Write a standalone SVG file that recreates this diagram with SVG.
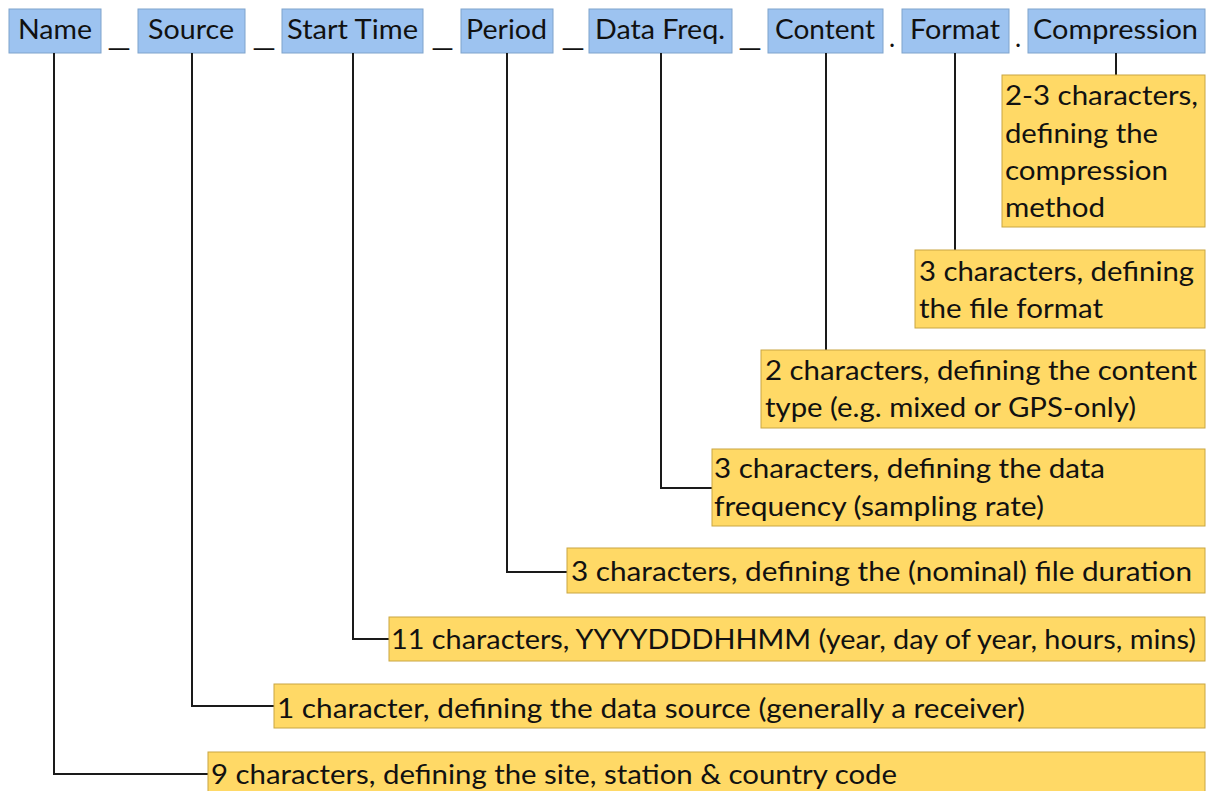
<svg xmlns="http://www.w3.org/2000/svg" width="1207" height="791" viewBox="0 0 1207 791">
<style>
.bg{fill:#ffffff}
.hdr{fill:#9DC3F0;stroke:#7FA3CC;stroke-width:1}
.desc{fill:#FFD966;stroke:#C9A642;stroke-width:1}
text{font-family:Lato,"Open Sans","Liberation Sans",sans-serif;font-size:26px;fill:#111111}
.sep{font-size:28px}
.conn path{fill:none;stroke:#1a1a1a;stroke-width:2}
</style>
<rect class="bg" x="0" y="0" width="1207" height="791"/>
<g id="separators">
<text class="sep" x="107" y="46" textLength="24" lengthAdjust="spacingAndGlyphs">_</text>
<text class="sep" x="252" y="46" textLength="24" lengthAdjust="spacingAndGlyphs">_</text>
<text class="sep" x="431" y="46" textLength="23" lengthAdjust="spacingAndGlyphs">_</text>
<text class="sep" x="561" y="46" textLength="24" lengthAdjust="spacingAndGlyphs">_</text>
<text class="sep" x="738" y="46" textLength="24" lengthAdjust="spacingAndGlyphs">_</text>
<text x="889" y="47">.</text>
<text x="1015" y="47">.</text>
</g>
<g id="h-name"><rect class="hdr" x="9" y="9" width="92" height="44"/><text x="18" y="39" textLength="74" lengthAdjust="spacingAndGlyphs">Name</text></g>
<g id="h-source"><rect class="hdr" x="138" y="9" width="107" height="44"/><text x="148" y="39" textLength="86" lengthAdjust="spacingAndGlyphs">Source</text></g>
<g id="h-start"><rect class="hdr" x="282" y="9" width="141" height="44"/><text x="287" y="39" textLength="131" lengthAdjust="spacingAndGlyphs">Start Time</text></g>
<g id="h-period"><rect class="hdr" x="461" y="9" width="92" height="44"/><text x="466" y="39" textLength="81" lengthAdjust="spacingAndGlyphs">Period</text></g>
<g id="h-freq"><rect class="hdr" x="589" y="9" width="143" height="44"/><text x="595" y="39" textLength="130" lengthAdjust="spacingAndGlyphs">Data Freq.</text></g>
<g id="h-content"><rect class="hdr" x="768" y="9" width="115" height="44"/><text x="775" y="39" textLength="100" lengthAdjust="spacingAndGlyphs">Content</text></g>
<g id="h-format"><rect class="hdr" x="902" y="9" width="107" height="44"/><text x="910" y="39" textLength="90" lengthAdjust="spacingAndGlyphs">Format</text></g>
<g id="h-compression"><rect class="hdr" x="1028" y="9" width="177" height="44"/><text x="1033" y="39" textLength="165" lengthAdjust="spacingAndGlyphs">Compression</text></g>
<g class="conn" id="connectors">
<path d="M54 53V774H208"/>
<path d="M192 53V706H274"/>
<path d="M353 53V639H389"/>
<path d="M507 53V572H567"/>
<path d="M661 53V488H712"/>
<path d="M826 53V350"/>
<path d="M955 53V250"/>
<path d="M1116 53V75"/>
</g>
<g id="d-compression"><rect class="desc" x="1002" y="75" width="203" height="152"/>
<text x="1005" y="105" textLength="193" lengthAdjust="spacingAndGlyphs">2-3 characters,</text>
<text x="1005" y="143" textLength="153" lengthAdjust="spacingAndGlyphs">defining the</text>
<text x="1005" y="180" textLength="163" lengthAdjust="spacingAndGlyphs">compression</text>
<text x="1005" y="217" textLength="100" lengthAdjust="spacingAndGlyphs">method</text></g>
<g id="d-format"><rect class="desc" x="915" y="250" width="290" height="78"/>
<text x="919" y="281" textLength="275" lengthAdjust="spacingAndGlyphs">3 characters, defining</text>
<text x="919" y="318" textLength="184" lengthAdjust="spacingAndGlyphs">the file format</text></g>
<g id="d-content"><rect class="desc" x="761" y="350" width="444" height="78"/>
<text x="765" y="380" textLength="432" lengthAdjust="spacingAndGlyphs">2 characters, defining the content</text>
<text x="765" y="417" textLength="371" lengthAdjust="spacingAndGlyphs">type (e.g. mixed or GPS-only)</text></g>
<g id="d-freq"><rect class="desc" x="712" y="449" width="493" height="77"/>
<text x="714" y="478" textLength="391" lengthAdjust="spacingAndGlyphs">3 characters, defining the data</text>
<text x="714" y="516" textLength="330" lengthAdjust="spacingAndGlyphs">frequency (sampling rate)</text></g>
<g id="d-period"><rect class="desc" x="567" y="548" width="638" height="45"/>
<text x="571" y="581" textLength="621" lengthAdjust="spacingAndGlyphs">3 characters, defining the (nominal) file duration</text></g>
<g id="d-start"><rect class="desc" x="389" y="617" width="816" height="44"/>
<text x="391" y="649" textLength="805" lengthAdjust="spacingAndGlyphs">11 characters, YYYYDDDHHMM (year, day of year, hours, mins)</text></g>
<g id="d-source"><rect class="desc" x="274" y="684" width="931" height="44"/>
<text x="277" y="718" textLength="748" lengthAdjust="spacingAndGlyphs">1 character, defining the data source (generally a receiver)</text></g>
<g id="d-name"><rect class="desc" x="208" y="752" width="997" height="45"/>
<text x="211" y="784" textLength="686" lengthAdjust="spacingAndGlyphs">9 characters, defining the site, station &amp; country code</text></g>
</svg>
